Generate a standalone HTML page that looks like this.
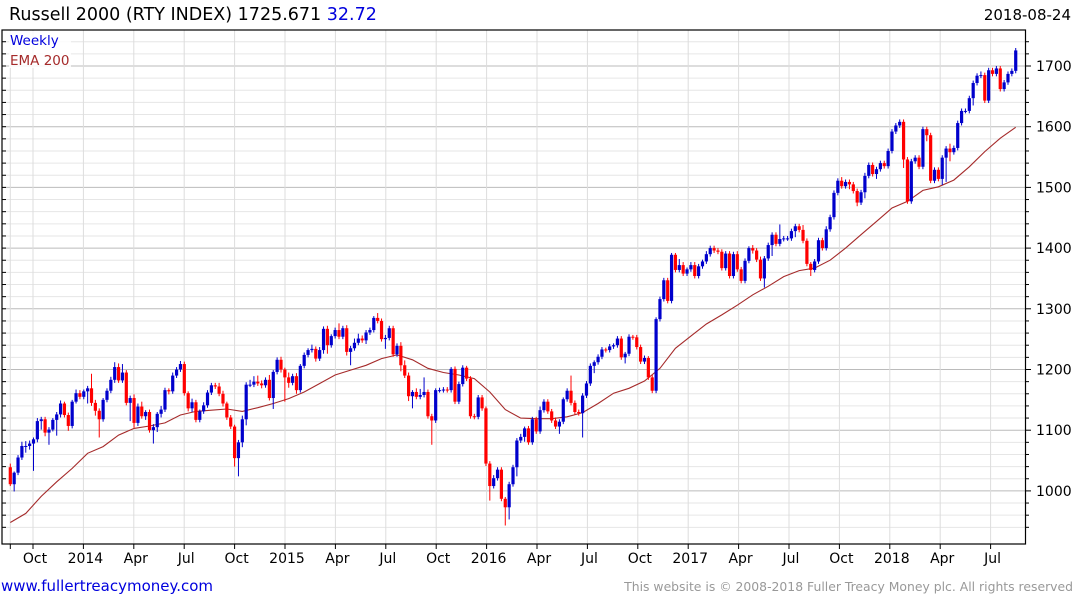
<!DOCTYPE html>
<html><head><meta charset="utf-8">
<style>
body{margin:0;background:#fff;width:1075px;height:600px;overflow:hidden;font-family:"DejaVu Sans","Liberation Sans",sans-serif;}
svg{display:block}
</style></head>
<body>
<svg id="chart" width="1075" height="600" viewBox="0 0 1075 600" xmlns="http://www.w3.org/2000/svg">
<text x="9" y="20" font-size="17.5" fill="#000">Russell 2000 (RTY INDEX) 1725.671 <tspan fill="#0000dd">32.72</tspan></text>
<text x="1071" y="20" font-size="15" fill="#000" text-anchor="end">2018-08-24</text>
<g id="grid"></g>
<g id="ema"></g>
<g id="candles"></g>
<rect x="2" y="30" width="1023.5" height="514" fill="none" stroke="#000" stroke-width="1.2"/>
<g id="axes"></g>
<rect x="9" y="31" width="62" height="37" fill="#fff" opacity="0.85"/>
<text x="10" y="45" font-size="13.5" fill="#0000dd">Weekly</text>
<text x="10" y="65" font-size="13.5" fill="#a52a2a">EMA 200</text>
<text x="1" y="591" font-size="15" fill="#0000dd">www.fullertreacymoney.com</text>
<text x="1073" y="591" font-size="12.4" fill="#999" text-anchor="end">This website is © 2008-2018 Fuller Treacy Money plc. All rights reserved</text>
</svg>
<script>
const closes=[1011,1030,1055,1074,1074,1078,1085,1115,1118,1096,
1101,1117,1126,1144,1125,1107,1147,1161,1155,1164,
1169,1145,1132,1118,1150,1165,1183,1204,1182,1195,
1145,1153,1112,1139,1123,1130,1100,1105,1127,1134,
1166,1164,1190,1200,1209,1161,1136,1146,1117,1131,
1141,1162,1174,1172,1160,1144,1121,1106,1054,1080,
1118,1175,1175,1180,1177,1174,1183,1153,1196,1216,
1200,1187,1178,1189,1166,1206,1224,1232,1234,1218,
1232,1267,1240,1255,1265,1254,1268,1229,1235,1244,
1251,1248,1261,1265,1285,1280,1250,1252,1268,1225,
1239,1207,1190,1156,1163,1155,1158,1163,1123,1116,
1166,1166,1167,1166,1201,1147,1176,1203,1185,1123,
1122,1154,1136,1045,1008,1021,1035,987,973,1011,
1039,1083,1089,1103,1080,1118,1098,1133,1147,1131,
1116,1106,1114,1151,1165,1145,1130,1128,1157,1177,
1206,1212,1221,1233,1232,1238,1240,1251,1220,1226,
1254,1253,1237,1213,1219,1187,1165,1283,1316,1347,
1313,1389,1364,1372,1358,1365,1372,1354,1370,1378,
1390,1400,1396,1394,1367,1391,1354,1390,1365,1346,
1379,1400,1396,1381,1350,1383,1405,1422,1407,1415,
1416,1416,1428,1436,1430,1412,1374,1364,1378,1413,
1400,1431,1451,1491,1511,1502,1509,1505,1494,1475,
1492,1519,1537,1522,1530,1540,1535,1560,1592,1602,
1608,1546,1477,1543,1549,1534,1596,1586,1511,1529,
1514,1549,1564,1558,1565,1606,1626,1626,1647,1672,
1684,1685,1643,1693,1687,1696,1662,1673,1687,1692,1725.67];
const firstOpen=1039;
const wickUp=[6,2,4,7,8,5,3,5,4,4, 4,3,4,5,3,4,3,6,5,3, 4,24,5,4,3,4,5,8,6,14, 4,4,6,5,8,3,4,5,3,6, 4,3,5,4,5,4,3,6,4,3, 5,4,4,4,6,5,3,4,3,4, 6,4,8,9,10, 5,4,8,3,4,5,3,8,4,5,3,4,3,7,4, 5,4,5,3,4,11,4,5,4,7, 8,5,4,4,3,8,4,5,4,4, 4,6,8,5,3,6,10,24,4,4, 3,4,4,4,3,4,4,4,3,4, 4,4,4,3,4,5,4,4,3,4, 4,4,5,3,4,4,4,6,4,4, 4,5,4,3,4,25,4,4,4,4, 4,3,4,4,3,4,3,4,4,3, 4,3,4,4,4,3,4,3,4,4, 4,3,3,10,5,3,5,5,4,3, 5,4,4,4,4,4,4,4,5,4, 4,3,5,4,5,4,4,4,4,24, 4,4,4,4,4,8,4,3,4,4, 4,5,4,4,4,6,4,4,4,4, 4,5,4,4,4,4,4,4,4,4, 4,4,4,4,4,4,4,4,4,4, 4,4,4,8,4,4,4,4,4,4, 4,6,4,4,4,4,4,4,4,4, 4,14,4,5,4,4,4,4,4,4, 4,25,4,4,4,4,4,4,4,4,2];
const wickDn=[3,12,4,4,11,6,45,5,14,6, 20,3,26,5,4,8,4,3,4,4, 20,5,8,30,4,4,4,5,4,4, 4,30,8,5,4,6,4,22,8,6, 4,5,4,4,4,4,5,6,4,4, 4,4,4,4,4,5,4,4,14,30, 8,10,4,4,4, 5,4,4,18,4,5,40,8,4,6,4,4,4,4,5, 4,6,14,4,4,4,4,6,22,4, 4,4,6,4,4,4,4,16,4,4, 4,10,4,8,20,4,4,4,4,40, 4,4,4,4,4,4,4,4,4,4, 4,4,4,4,24,4,4,4,30,20, 4,15,4,8,4,4,4,4,4,4, 4,4,12,4,4,4,4,4,40,4, 4,12,4,4,4,4,4,4,4,10, 4,4,4,4,4,4,4,4,4,4, 4,4,4,4,4,4,4,4,4,4, 4,4,4,4,4,4,4,4,4,4, 4,4,5,4,4,15,4,18,4,4, 4,4,4,10,4,4,4,10,4,4, 4,4,4,4,4,4,4,8,4,6, 4,10,4,4,8,4,4,4,4,4, 4,14,4,4,4,4,4,10,4,4, 4,10,40,15,4,4,4,4,4,12, 4,4,4,4,4,4,4,4,4,4, 4,4,4,4,4,4,4,4,4,6,4];
const emaStep=4;
const emaVals=[948,963,991,1015,1037,1062,1073,1092,1103,1107,1112,1125,1131,1133,1135,1131,1137,
1144,1152,1163,1177,1191,1199,1207,1218,1224,1216,1202,1195,1191,1185,1163,1134,
1120,1119,1119,1122,1129,1144,1161,1169,1181,1202,1235,1255,1275,1290,1306,1323,
1337,1353,1363,1367,1380,1400,1422,1444,1466,1477,1495,1501,1512,1534,1559,1581,1599];
const yTicks=[1000,1100,1200,1300,1400,1500,1600,1700];
const xLabels=["Oct","2014","Apr","Jul","Oct","2015","Apr","Jul","Oct","2016","Apr","Jul","Oct","2017","Apr","Jul","Oct","2018","Apr","Jul"];

const NS="http://www.w3.org/2000/svg";
const X0=10.3,DX=3.867;
function xs(i){return X0+i*DX;}
function ys(v){return 66-(v-1700)*0.607;}
function qx(q){return 33+q*50.4;}
function mk(tag,attrs,parent){const e=document.createElementNS(NS,tag);for(const k in attrs)e.setAttribute(k,attrs[k]);parent.appendChild(e);return e;}
const grid=document.getElementById('grid'),axes=document.getElementById('axes'),cg=document.getElementById('candles'),eg=document.getElementById('ema');
for(let v=940;v<=1760;v+=20){const y=ys(v);if(y<31||y>543)continue;const major=v%100===0;
 const l=mk('line',{x1:2,x2:1025,y1:y,y2:y,stroke:major?'#bbb':'#e6e6e6','stroke-width':1},grid);
 
 
 const t=mk('line',{x1:1025,x2:major?1031:1029,y1:y,y2:y,stroke:'#000','stroke-width':1},axes);
 
 
 const t2=mk('line',{x1:2,x2:6,y1:y,y2:y,stroke:'#000','stroke-width':1},axes);
 
 }
yTicks.forEach(v=>{const t=mk('text',{x:1036,y:ys(v)+5,'font-size':14,fill:'#000'},axes);t.textContent=v;
 
 });
const vx=[10.3];xLabels.forEach((_,q)=>vx.push(qx(q)));
vx.forEach(x=>{const l=mk('line',{x1:x,x2:x,y1:30,y2:544,stroke:'#ddd','stroke-width':1},grid);
 
 
 const t=mk('line',{x1:x,x2:x,y1:544,y2:549,stroke:'#000','stroke-width':1},axes);
 
 });
xLabels.forEach((s,q)=>{const t=mk('text',{x:qx(q)+2,y:563,'font-size':14,fill:'#000','text-anchor':'middle'},axes);t.textContent=s;
 
 });
let pts=emaVals.map((v,j)=>xs(j*emaStep).toFixed(1)+','+ys(v).toFixed(1)).join(' ');
const pl=mk('polyline',{points:pts,fill:'none',stroke:'#a52a2a','stroke-width':1.1},eg);


closes.forEach((c,i)=>{const o=i===0?firstOpen:closes[i-1];const up=c>=o;const col=up?'#0000cc':'#ff0000';
 const top=Math.max(o,c),bot=Math.min(o,c);const x=xs(i);
 const g=mk('g',{},cg);
 
 
 mk('line',{x1:x,x2:x,y1:ys(top+wickUp[i]),y2:ys(bot-wickDn[i]),stroke:col,'stroke-width':1},g);
 const h=Math.max(1,ys(bot)-ys(top));
 mk('rect',{x:x-1.6,y:ys(top),width:3.2,height:h,fill:col},g);});
</script>
</body></html>
